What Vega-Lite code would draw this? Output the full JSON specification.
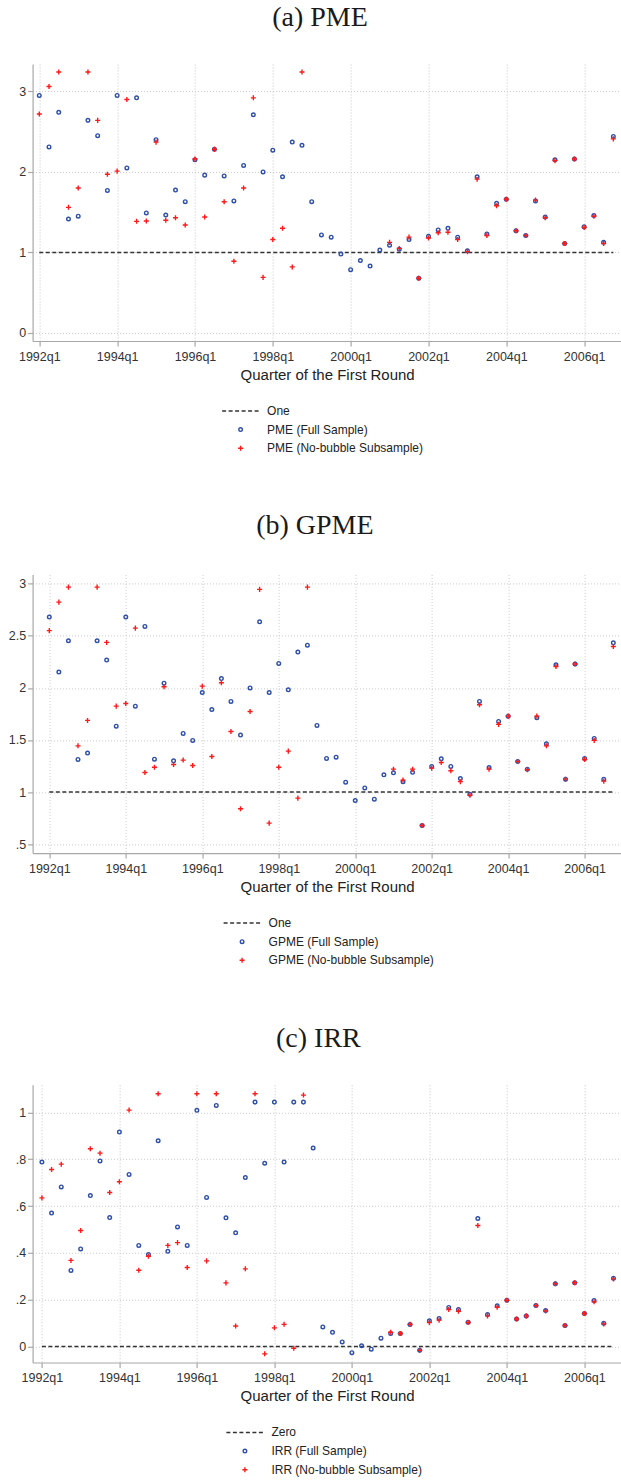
{
  "$schema": "https://vega.github.io/schema/vega-lite/v6.json",
  "background": "white",
  "padding": {"left": 7.6, "top": 4, "right": 0, "bottom": 0},
  "config": {
    "view": {"stroke": null},
    "axis": {"labelFont": "Liberation Sans", "labelFontSize": 12.5, "labelColor": "#333333", "domainColor": "#a8a8a8", "domainWidth": 1.2, "tickColor": "#a8a8a8", "tickSize": 5, "tickWidth": 1.2, "labelPadding": 2, "gridColor": "#c8c8c8", "gridDash": [1, 2], "gridWidth": 1, "titleFont": "Liberation Sans", "titleFontSize": 15, "titleFontWeight": "normal", "titleColor": "#222222"},
    "legend": {"labelFont": "Liberation Sans", "labelFontSize": 12, "labelColor": "#222222", "labelLimit": 0, "clipHeight": 14, "rowPadding": 4.6, "symbolStrokeWidth": 1.4, "padding": 0, "title": null, "orient": "none", "direction": "vertical"},
    "title": {"font": "Liberation Serif", "fontSize": 28, "fontWeight": "normal", "color": "#1a1a1a", "anchor": "middle", "frame": "bounds", "baseline": "alphabetic"}
  },
  "datasets": {
    "d": [
      {"t": 1992.0, "a": 2.95, "a_nb": 2.72, "b": 2.68, "b_nb": 2.55, "c": 0.788, "c_nb": 0.635},
      {"t": 1992.25, "a": 2.31, "a_nb": 3.06, "b": 2.152, "b_nb": 2.824, "c": 0.57, "c_nb": 0.756},
      {"t": 1992.5, "a": 2.74, "a_nb": 3.24, "b": 2.453, "b_nb": 2.968, "c": 0.682, "c_nb": 0.779},
      {"t": 1992.75, "a": 1.415, "a_nb": 1.56, "b": 1.313, "b_nb": 1.444, "c": 0.325, "c_nb": 0.368},
      {"t": 1993.0, "a": 1.45, "a_nb": 1.8, "b": 1.374, "b_nb": 1.688, "c": 0.417, "c_nb": 0.496},
      {"t": 1993.25, "a": 2.64, "a_nb": 3.24, "b": 2.453, "b_nb": 2.968, "c": 0.645, "c_nb": 0.845},
      {"t": 1993.5, "a": 2.45, "a_nb": 2.64, "b": 2.267, "b_nb": 2.437, "c": 0.793, "c_nb": 0.826},
      {"t": 1993.75, "a": 1.77, "a_nb": 1.97, "b": 1.633, "b_nb": 1.825, "c": 0.551, "c_nb": 0.658},
      {"t": 1994.0, "a": 2.95, "a_nb": 2.01, "b": 2.68, "b_nb": 1.85, "c": 0.916, "c_nb": 0.704},
      {"t": 1994.25, "a": 2.05, "a_nb": 2.9, "b": 1.825, "b_nb": 2.574, "c": 0.735, "c_nb": 1.01},
      {"t": 1994.5, "a": 2.92, "a_nb": 1.386, "b": 2.59, "b_nb": 1.188, "c": 0.432, "c_nb": 0.326},
      {"t": 1994.75, "a": 1.49, "a_nb": 1.39, "b": 1.316, "b_nb": 1.239, "c": 0.393, "c_nb": 0.386},
      {"t": 1995.0, "a": 2.4, "a_nb": 2.37, "b": 2.046, "b_nb": 2.011, "c": 0.879, "c_nb": 1.08},
      {"t": 1995.25, "a": 1.465, "a_nb": 1.4, "b": 1.3, "b_nb": 1.265, "c": 0.407, "c_nb": 0.432},
      {"t": 1995.5, "a": 1.775, "a_nb": 1.43, "b": 1.563, "b_nb": 1.307, "c": 0.511, "c_nb": 0.444},
      {"t": 1995.75, "a": 1.63, "a_nb": 1.34, "b": 1.496, "b_nb": 1.255, "c": 0.432, "c_nb": 0.338},
      {"t": 1996.0, "a": 2.15, "a_nb": 2.16, "b": 1.956, "b_nb": 2.017, "c": 1.009, "c_nb": 1.08},
      {"t": 1996.25, "a": 1.96, "a_nb": 1.44, "b": 1.793, "b_nb": 1.342, "c": 0.637, "c_nb": 0.366},
      {"t": 1996.5, "a": 2.28, "a_nb": 2.28, "b": 2.09, "b_nb": 2.05, "c": 1.03, "c_nb": 1.08},
      {"t": 1996.75, "a": 1.95, "a_nb": 1.63, "b": 1.87, "b_nb": 1.582, "c": 0.55, "c_nb": 0.272},
      {"t": 1997.0, "a": 1.64, "a_nb": 0.89, "b": 1.547, "b_nb": 0.84, "c": 0.486, "c_nb": 0.088},
      {"t": 1997.25, "a": 2.08, "a_nb": 1.8, "b": 2.0, "b_nb": 1.774, "c": 0.722, "c_nb": 0.332},
      {"t": 1997.5, "a": 2.71, "a_nb": 2.92, "b": 2.635, "b_nb": 2.946, "c": 1.044, "c_nb": 1.08},
      {"t": 1997.75, "a": 2.0, "a_nb": 0.69, "b": 1.956, "b_nb": 0.702, "c": 0.783, "c_nb": -0.031},
      {"t": 1998.0, "a": 2.27, "a_nb": 1.16, "b": 2.235, "b_nb": 1.239, "c": 1.044, "c_nb": 0.08},
      {"t": 1998.25, "a": 1.94, "a_nb": 1.3, "b": 1.982, "b_nb": 1.393, "c": 0.788, "c_nb": 0.095},
      {"t": 1998.5, "a": 2.37, "a_nb": 0.82, "b": 2.344, "b_nb": 0.942, "c": 1.044, "c_nb": -0.007},
      {"t": 1998.75, "a": 2.33, "a_nb": 3.24, "b": 2.41, "b_nb": 2.968, "c": 1.044, "c_nb": 1.074},
      {"t": 1999.0, "a": 1.63, "b": 1.64, "c": 0.848},
      {"t": 1999.25, "a": 1.217, "b": 1.323, "c": 0.084},
      {"t": 1999.5, "a": 1.19, "b": 1.335, "c": 0.061},
      {"t": 1999.75, "a": 0.98, "b": 1.095, "c": 0.02},
      {"t": 2000.0, "a": 0.786, "b": 0.919, "c": -0.026},
      {"t": 2000.25, "a": 0.9, "b": 1.04, "c": 0.003},
      {"t": 2000.5, "a": 0.83, "b": 0.932, "c": -0.011},
      {"t": 2000.75, "a": 1.03, "b": 1.166, "c": 0.036},
      {"t": 2001.0, "a": 1.09, "a_nb": 1.125, "b": 1.185, "b_nb": 1.22, "c": 0.056, "c_nb": 0.061},
      {"t": 2001.25, "a": 1.04, "a_nb": 1.05, "b": 1.099, "b_nb": 1.115, "c": 0.056, "c_nb": 0.056},
      {"t": 2001.5, "a": 1.16, "a_nb": 1.19, "b": 1.19, "b_nb": 1.22, "c": 0.094, "c_nb": 0.095},
      {"t": 2001.75, "a": 0.68, "a_nb": 0.68, "b": 0.679, "b_nb": 0.679, "c": -0.016, "c_nb": -0.016},
      {"t": 2002.0, "a": 1.2, "a_nb": 1.18, "b": 1.246, "b_nb": 1.23, "c": 0.11, "c_nb": 0.103},
      {"t": 2002.25, "a": 1.28, "a_nb": 1.245, "b": 1.32, "b_nb": 1.284, "c": 0.12, "c_nb": 0.113},
      {"t": 2002.5, "a": 1.3, "a_nb": 1.25, "b": 1.246, "b_nb": 1.204, "c": 0.167, "c_nb": 0.158},
      {"t": 2002.75, "a": 1.19, "a_nb": 1.16, "b": 1.13, "b_nb": 1.1, "c": 0.158, "c_nb": 0.151},
      {"t": 2003.0, "a": 1.02, "a_nb": 1.01, "b": 0.98, "b_nb": 0.97, "c": 0.104, "c_nb": 0.103},
      {"t": 2003.25, "a": 1.94, "a_nb": 1.91, "b": 1.87, "b_nb": 1.838, "c": 0.547, "c_nb": 0.517},
      {"t": 2003.5, "a": 1.23, "a_nb": 1.21, "b": 1.236, "b_nb": 1.22, "c": 0.137, "c_nb": 0.131},
      {"t": 2003.75, "a": 1.61, "a_nb": 1.58, "b": 1.678, "b_nb": 1.65, "c": 0.174, "c_nb": 0.168},
      {"t": 2004.0, "a": 1.66, "a_nb": 1.66, "b": 1.729, "b_nb": 1.729, "c": 0.198, "c_nb": 0.198},
      {"t": 2004.25, "a": 1.27, "a_nb": 1.27, "b": 1.294, "b_nb": 1.294, "c": 0.118, "c_nb": 0.118},
      {"t": 2004.5, "a": 1.21, "a_nb": 1.21, "b": 1.22, "b_nb": 1.214, "c": 0.131, "c_nb": 0.131},
      {"t": 2004.75, "a": 1.64, "a_nb": 1.65, "b": 1.713, "b_nb": 1.729, "c": 0.175, "c_nb": 0.175},
      {"t": 2005.0, "a": 1.44, "a_nb": 1.43, "b": 1.464, "b_nb": 1.444, "c": 0.154, "c_nb": 0.152},
      {"t": 2005.25, "a": 2.15, "a_nb": 2.14, "b": 2.222, "b_nb": 2.206, "c": 0.268, "c_nb": 0.268},
      {"t": 2005.5, "a": 1.11, "a_nb": 1.11, "b": 1.124, "b_nb": 1.124, "c": 0.09, "c_nb": 0.09},
      {"t": 2005.75, "a": 2.16, "a_nb": 2.16, "b": 2.229, "b_nb": 2.229, "c": 0.273, "c_nb": 0.273},
      {"t": 2006.0, "a": 1.32, "a_nb": 1.31, "b": 1.323, "b_nb": 1.313, "c": 0.141, "c_nb": 0.141},
      {"t": 2006.25, "a": 1.46, "a_nb": 1.45, "b": 1.515, "b_nb": 1.496, "c": 0.197, "c_nb": 0.191},
      {"t": 2006.5, "a": 1.125, "a_nb": 1.11, "b": 1.124, "b_nb": 1.105, "c": 0.1, "c_nb": 0.097},
      {"t": 2006.75, "a": 2.44, "a_nb": 2.41, "b": 2.433, "b_nb": 2.398, "c": 0.292, "c_nb": 0.289}
    ]
  },
  "resolve": {
    "scale": {"color": "independent", "shape": "independent", "strokeDash": "independent"},
    "legend": {"color": "independent", "shape": "independent", "strokeDash": "independent"}
  },
  "columns": 1,
  "align": "none",
  "bounds": "full",
  "spacing": 56.4,
  "concat": [
    {
      "width": 589,
      "height": 277,
      "title": {"text": "(a) PME", "offset": 31.6},
      "layer": [
        {
          "data": {"values": [{"k": "One", "x0": 1992, "x1": 2006.75, "y": 1}]},
          "mark": {"type": "rule", "strokeWidth": 1.5, "color": "#333333"},
          "encoding": {
            "x": {"field": "x0", "type": "quantitative", "scale": {"domain": [1991.828, 2006.962], "nice": false, "zero": false},
              "axis": {"values": [1992, 1994, 1996, 1998, 2000, 2002, 2004, 2006], "labelExpr": "datum.value + 'q1'", "title": "Quarter of the First Round", "grid": true, "titlePadding": 5, "labelPadding": 4}},
            "x2": {"field": "x1"},
            "y": {"field": "y", "type": "quantitative", "scale": {"domain": [-0.1, 3.34], "nice": false, "zero": false},
              "axis": {"values": [0, 1, 2, 3], "title": null, "grid": true, "labelExpr": "datum.value > 0 && datum.value < 1 ? substring(toString(datum.value), 1) : toString(datum.value)"}},
            "strokeDash": {"field": "k", "type": "nominal", "scale": {"domain": ["One"], "range": [[4, 2.5]]},
              "legend": {"legendX": 188.5, "legendY": 340, "symbolSize": 1369, "symbolStrokeColor": "#333333", "symbolStrokeWidth": 1.5, "labelOffset": 7}}
          }
        },
        {
          "data": {"name": "d"},
          "transform": [{"fold": ["a", "a_nb"], "as": ["k", "v"]}, {"filter": "isValid(datum.v)"}],
          "mark": {"type": "point", "filled": false, "size": 13, "strokeWidth": 1.4, "opacity": 1},
          "encoding": {
            "x": {"field": "t", "type": "quantitative"},
            "y": {"field": "v", "type": "quantitative"},
            "color": {"field": "k", "type": "nominal", "scale": {"domain": ["a", "a_nb"], "range": ["#2f4fa8", "#ff1a1a"]},
              "legend": {"legendX": 202, "legendY": 358.6, "symbolSize": 13, "labelOffset": 20.5, "labelExpr": "datum.label == 'a' ? 'PME (Full Sample)' : 'PME (No-bubble Subsample)'"}},
            "shape": {"field": "k", "type": "nominal", "scale": {"domain": ["a", "a_nb"], "range": ["circle", "M-1.4,0H1.4M0,-1.4V1.4"]},
              "legend": {"legendX": 202, "legendY": 358.6, "symbolSize": 13, "labelOffset": 20.5, "labelExpr": "datum.label == 'a' ? 'PME (Full Sample)' : 'PME (No-bubble Subsample)'"}}
          }
        }
      ]
    },
    {
      "width": 589,
      "height": 278.7,
      "title": {"text": "(b) GPME", "offset": 34},
      "layer": [
        {
          "data": {"values": [{"k": "One", "x0": 1992, "x1": 2006.75, "y": 1}]},
          "mark": {"type": "rule", "strokeWidth": 1.5, "color": "#333333"},
          "encoding": {
            "x": {"field": "x0", "type": "quantitative", "scale": {"domain": [1991.563, 2006.966], "nice": false, "zero": false},
              "axis": {"values": [1992, 1994, 1996, 1998, 2000, 2002, 2004, 2006], "labelExpr": "datum.value + 'q1'", "title": "Quarter of the First Round", "grid": true, "titlePadding": 5, "labelPadding": 4}},
            "x2": {"field": "x1"},
            "y": {"field": "y", "type": "quantitative", "scale": {"domain": [0.414, 3.09], "nice": false, "zero": false},
              "axis": {"values": [0.5, 1, 1.5, 2, 2.5, 3], "title": null, "grid": true, "labelExpr": "datum.value > 0 && datum.value < 1 ? substring(toString(datum.value), 1) : toString(datum.value)"}},
            "strokeDash": {"field": "k", "type": "nominal", "scale": {"domain": ["One"], "range": [[4, 2.5]]},
              "legend": {"legendX": 190, "legendY": 341.7, "symbolSize": 1369, "symbolStrokeColor": "#333333", "symbolStrokeWidth": 1.5, "labelOffset": 7}}
          }
        },
        {
          "data": {"name": "d"},
          "transform": [{"fold": ["b", "b_nb"], "as": ["k", "v"]}, {"filter": "isValid(datum.v)"}],
          "mark": {"type": "point", "filled": false, "size": 13, "strokeWidth": 1.4, "opacity": 1},
          "encoding": {
            "x": {"field": "t", "type": "quantitative"},
            "y": {"field": "v", "type": "quantitative"},
            "color": {"field": "k", "type": "nominal", "scale": {"domain": ["b", "b_nb"], "range": ["#2f4fa8", "#ff1a1a"]},
              "legend": {"legendX": 203.5, "legendY": 360.3, "symbolSize": 13, "labelOffset": 20.5, "labelExpr": "datum.label == 'b' ? 'GPME (Full Sample)' : 'GPME (No-bubble Subsample)'"}},
            "shape": {"field": "k", "type": "nominal", "scale": {"domain": ["b", "b_nb"], "range": ["circle", "M-1.4,0H1.4M0,-1.4V1.4"]},
              "legend": {"legendX": 203.5, "legendY": 360.3, "symbolSize": 13, "labelOffset": 20.5, "labelExpr": "datum.label == 'b' ? 'GPME (Full Sample)' : 'GPME (No-bubble Subsample)'"}}
          }
        }
      ]
    },
    {
      "width": 589,
      "height": 277.7,
      "title": {"text": "(c) IRR", "offset": 31.6},
      "layer": [
        {
          "data": {"values": [{"k": "Zero", "x0": 1992, "x1": 2006.75, "y": 0}]},
          "mark": {"type": "rule", "strokeWidth": 1.5, "color": "#333333"},
          "encoding": {
            "x": {"field": "x0", "type": "quantitative", "scale": {"domain": [1991.76, 2006.96], "nice": false, "zero": false},
              "axis": {"values": [1992, 1994, 1996, 1998, 2000, 2002, 2004, 2006], "labelExpr": "datum.value + 'q1'", "title": "Quarter of the First Round", "grid": true, "titlePadding": 5, "labelPadding": 4}},
            "x2": {"field": "x1"},
            "y": {"field": "y", "type": "quantitative", "scale": {"domain": [-0.068, 1.118], "nice": false, "zero": false},
              "axis": {"values": [0, 0.2, 0.4, 0.6, 0.8, 1], "title": null, "grid": true, "labelExpr": "datum.value > 0 && datum.value < 1 ? substring(toString(datum.value), 1) : toString(datum.value)"}},
            "strokeDash": {"field": "k", "type": "nominal", "scale": {"domain": ["Zero"], "range": [[4, 2.5]]},
              "legend": {"legendX": 192.8, "legendY": 340.7, "symbolSize": 1369, "symbolStrokeColor": "#333333", "symbolStrokeWidth": 1.5, "labelOffset": 7}}
          }
        },
        {
          "data": {"name": "d"},
          "transform": [{"fold": ["c", "c_nb"], "as": ["k", "v"]}, {"filter": "isValid(datum.v)"}],
          "mark": {"type": "point", "filled": false, "size": 13, "strokeWidth": 1.4, "opacity": 1},
          "encoding": {
            "x": {"field": "t", "type": "quantitative"},
            "y": {"field": "v", "type": "quantitative"},
            "color": {"field": "k", "type": "nominal", "scale": {"domain": ["c", "c_nb"], "range": ["#2f4fa8", "#ff1a1a"]},
              "legend": {"legendX": 206.3, "legendY": 359.3, "symbolSize": 13, "labelOffset": 20.5, "labelExpr": "datum.label == 'c' ? 'IRR (Full Sample)' : 'IRR (No-bubble Subsample)'"}},
            "shape": {"field": "k", "type": "nominal", "scale": {"domain": ["c", "c_nb"], "range": ["circle", "M-1.4,0H1.4M0,-1.4V1.4"]},
              "legend": {"legendX": 206.3, "legendY": 359.3, "symbolSize": 13, "labelOffset": 20.5, "labelExpr": "datum.label == 'c' ? 'IRR (Full Sample)' : 'IRR (No-bubble Subsample)'"}}
          }
        }
      ]
    }
  ]
}
